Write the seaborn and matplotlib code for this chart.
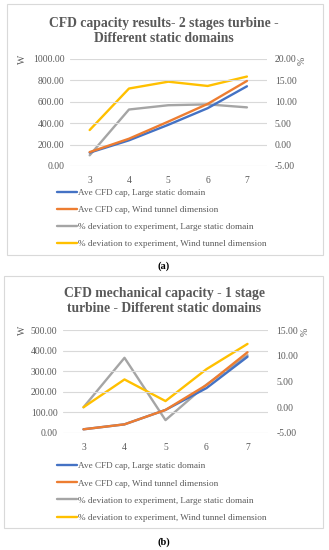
import matplotlib
matplotlib.use("Agg")
import matplotlib.pyplot as plt
import seaborn as sns
import pandas as pd
from matplotlib.patches import Rectangle
from matplotlib.lines import Line2D

# ---------------- data ----------------
tsr = ["3", "4", "5", "6", "7"]

a_cap_large = [125, 240, 385, 540, 745]
a_cap_tunnel = [130, 255, 415, 580, 795]
a_dev_large = [-2.5, 8.2, 9.2, 9.4, 8.7]
a_dev_tunnel = [3.4, 13.1, 14.7, 13.7, 15.9]

b_cap_large = [18, 42, 112, 218, 370]
b_cap_tunnel = [18, 42, 112, 233, 392]
b_dev_large = [0.0, 9.6, -2.5, 4.4, 10.1]
b_dev_tunnel = [0.0, 5.4, 1.2, 7.4, 12.3]

title_a = "CFD capacity results- 2 stages turbine -\nDifferent static domains"
title_b = "CFD mechanical capacity - 1 stage\nturbine - Different static domains"
labels = ["Ave CFD cap, Large static domain",
          "Ave CFD cap, Wind tunnel dimension",
          "% deviation to experiment, Large static domain",
          "% deviation to experiment, Wind tunnel dimension"]
colors = ["#4472C4", "#ED7D31", "#A5A5A5", "#FFC000"]

W, H = 329, 550
sns.set_theme(style="white")
plt.rcParams['font.family'] = ['Liberation Serif', 'DejaVu Serif']
fig = plt.figure(figsize=(W / 100, H / 100), dpi=100)

TXT = "#595959"


def fx(x):
    return x / W


def fy(y):
    return 1 - y / H


def panel(cap1, cap2, dev1, dev2, title, caption, ax_box, frame, left_lim,
          left_ticks, right_lim, right_ticks, title_y, leg_y, cap_y, plab):
    x0, x1, yt, yb = ax_box
    fr = Rectangle((fx(frame[0]), fy(frame[3])), fx(frame[2] - frame[0]),
                   (frame[3] - frame[1]) / H, transform=fig.transFigure,
                   fill=False, edgecolor="#D9D9D9", linewidth=0.8)
    fig.patches.append(fr)
    ax = fig.add_axes([fx(x0), fy(yb), fx(x1 - x0), (yb - yt) / H])
    ax2 = ax.twinx()
    df = pd.DataFrame({"tsr": tsr, "c1": cap1, "c2": cap2, "d1": dev1, "d2": dev2})
    sns.lineplot(data=df, x="tsr", y="c1", ax=ax, color=colors[0], lw=1.7, sort=False)
    sns.lineplot(data=df, x="tsr", y="c2", ax=ax, color=colors[1], lw=1.7, sort=False)
    sns.lineplot(data=df, x="tsr", y="d1", ax=ax2, color=colors[2], lw=1.7, sort=False)
    sns.lineplot(data=df, x="tsr", y="d2", ax=ax2, color=colors[3], lw=1.7, sort=False)
    ax.set_zorder(ax2.get_zorder() + 1)
    ax.patch.set_visible(False)
    for a in (ax, ax2):
        a.set_xlim(-0.5, 4.5)
        for s in a.spines.values():
            s.set_visible(False)
        a.set_xlabel("")
        a.set_ylabel("")
    ax.set_ylim(*left_lim)
    ax.set_yticks(left_ticks)
    ax.set_yticklabels([f"{v:.2f}" for v in left_ticks])
    ax2.set_ylim(*right_lim)
    ax2.set_yticks(right_ticks)
    ax2.set_yticklabels([f"{v:.2f}" for v in right_ticks])
    ax.yaxis.grid(True, color="#D9D9D9", lw=0.8)
    ax.set_axisbelow(True)
    ax.tick_params(axis="both", length=0, labelsize=6.9, labelcolor=TXT, pad=4)
    ax2.tick_params(axis="y", length=0, labelsize=6.9, labelcolor=TXT, pad=6)
    ax.tick_params(axis="x", pad=7)
    fig.text(fx(164), fy(title_y), title, ha="center", va="center",
             fontsize=9.8, fontweight="bold", color=TXT, linespacing=1.2)
    fig.text(fx(22), fy(yt), "W", rotation=90, ha="center", va="center",
             fontsize=7, color=TXT)
    fig.text(fx(plab), fy(yt + 2), "%", rotation=90, ha="center", va="center",
             fontsize=7, color=TXT)
    handles = [Line2D([], [], color=c, lw=1.7) for c in colors]
    fig.legend(handles, labels, loc="upper left",
               bbox_to_anchor=(fx(57), fy(leg_y)), frameon=False,
               fontsize=6.6, labelcolor=TXT, handlelength=2.2, handletextpad=0.1,
               labelspacing=0.95, borderpad=0, borderaxespad=0)
    fig.text(fx(164), fy(cap_y), caption, ha="center", va="center",
             fontsize=7.5, fontweight="bold", color="black")


panel(a_cap_large, a_cap_tunnel, a_dev_large, a_dev_tunnel, title_a, "(a)",
      (70, 266.6, 59, 166), (7, 4, 323, 255), (0, 1000), [0, 200, 400, 600, 800, 1000],
      (-5, 20), [-5, 0, 5, 10, 15, 20], 31.5, 188.5, 266, 302)
panel(b_cap_large, b_cap_tunnel, b_dev_large, b_dev_tunnel, title_b, "(b)",
      (63, 268, 330, 433), (4, 276, 323, 528), (0, 500), [0, 100, 200, 300, 400, 500],
      (-5, 15), [-5, 0, 5, 10, 15], 301.5, 462, 542, 305)

fig.savefig("out.png", dpi=100)
